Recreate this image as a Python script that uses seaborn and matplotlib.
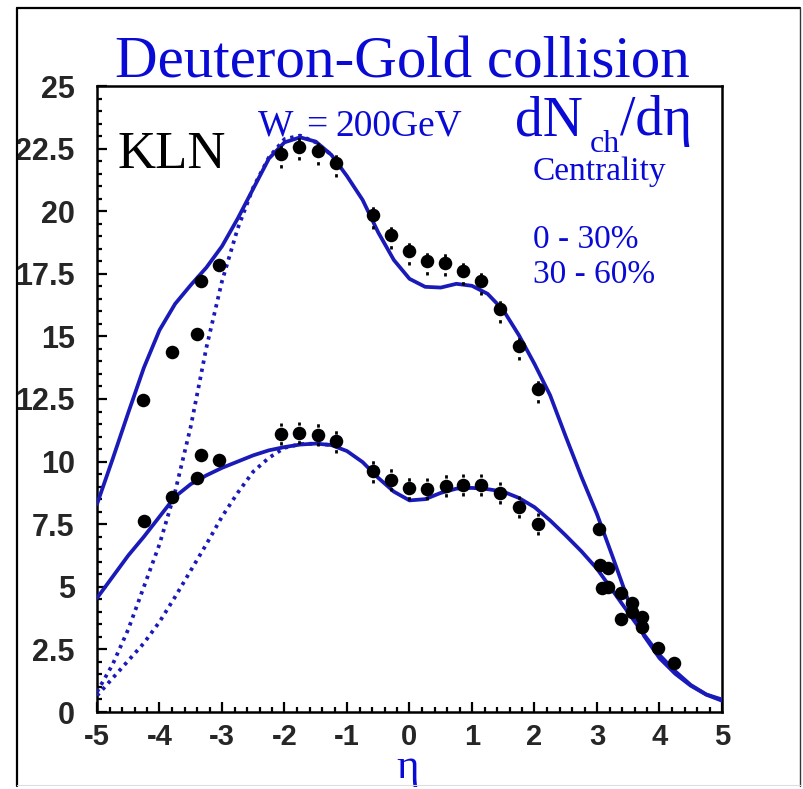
import numpy as np
import pandas as pd
import matplotlib
matplotlib.use("Agg")
import matplotlib.pyplot as plt
from matplotlib.lines import Line2D
from matplotlib.patches import Rectangle
import seaborn as sns

# ---- KLN model curves: pseudorapidity grid and dN/deta ----
eta_grid = [-5.0, -4.75, -4.5, -4.25, -4.0, -3.75, -3.5, -3.25, -3.0, -2.75,
            -2.5, -2.25, -2.0, -1.75, -1.5, -1.25, -1.0, -0.75, -0.5, -0.25,
            0.0, 0.25, 0.5, 0.75, 1.0, 1.25, 1.5, 1.75, 2.0, 2.25,
            2.5, 2.75, 3.0, 3.25, 3.5, 3.75, 4.0, 4.25, 4.5, 4.75, 5.0]
kln_central = [8.3, 10.1, 11.95, 13.75, 15.25, 16.3, 17.05, 17.75, 18.6, 19.7,
               20.9, 22.1, 22.75, 22.95, 22.78, 22.25, 21.4, 20.45, 19.15, 18.05,
               17.3, 16.98, 16.95, 17.1, 17.02, 16.7, 16.05, 15.05, 13.9, 12.65,
               11.0, 9.4, 7.9, 6.2, 4.45, 3.05, 2.15, 1.53, 1.05, 0.69, 0.45]
kln_periph = [4.55, 5.4, 6.25, 7.0, 7.8, 8.6, 9.1, 9.45, 9.75, 10.0,
              10.25, 10.45, 10.58, 10.68, 10.72, 10.66, 10.42, 9.98, 9.35, 8.8,
              8.45, 8.5, 8.75, 8.92, 8.95, 8.9, 8.8, 8.55, 8.18, 7.65,
              7.05, 6.42, 5.72, 4.85, 3.97, 3.1, 2.28, 1.63, 1.08, 0.7, 0.5]

# alternative (dotted) curves on the deuteron side
eta_alt = [-5.0, -4.75, -4.5, -4.25, -4.0, -3.75, -3.5, -3.25, -3.0, -2.75,
           -2.5, -2.25, -2.0, -1.75, -1.5, -1.25]
alt_central = [0.8, 1.9, 3.3, 5.0, 6.7, 8.8, 11.4, 14.55, 17.2, 19.3,
               20.95, 22.15, 22.88, 23.02, 22.75, 22.25]
alt_periph = [0.65, 1.35, 2.05, 2.75, 3.6, 4.6, 5.65, 6.7, 7.8, 8.75,
              9.6, 10.15, 10.55, 10.7, 10.72, 10.66]

# ---- measured points, 0-30% centrality ----
mid_eta_c = [-2.05, -1.77, -1.47, -1.18, -0.59, -0.30, 0.0, 0.28, 0.57, 0.86,
             1.15, 1.45, 1.75, 2.06]
mid_val_c = [22.28, 22.58, 22.41, 21.92, 19.84, 19.04, 18.41, 18.0, 17.95, 17.61,
             17.21, 16.08, 14.61, 12.9]
mid_err_c = 0.55
fwd_eta_c = [-4.26, -3.80, -3.40, -3.34, -3.05, 3.03, 3.17, 3.38, 3.56, 3.72, 3.97, 4.23]
fwd_val_c = [12.45, 14.39, 15.08, 17.23, 17.87, 7.32, 5.75, 4.75, 4.35, 3.81, 2.57, 1.95]

# ---- measured points, 30-60% centrality ----
mid_eta_p = [-2.05, -1.77, -1.47, -1.18, -0.59, -0.30, 0.0, 0.28, 0.58, 0.86,
             1.15, 1.45, 1.75, 2.06]
mid_val_p = [11.1, 11.14, 11.08, 10.81, 9.61, 9.28, 8.93, 8.91, 9.04, 9.07,
             9.07, 8.75, 8.19, 7.51]
mid_err_p = 0.45
fwd_eta_p = [-4.25, -3.80, -3.40, -3.33, -3.05, 3.05, 3.08, 3.17, 3.38, 3.56, 3.72]
fwd_val_p = [7.61, 8.57, 9.33, 10.25, 10.07, 5.88, 4.95, 4.99, 3.73, 3.99, 3.41]

x_ticks = [-5, -4, -3, -2, -1, 0, 1, 2, 3, 4, 5]
y_ticks = [0, 2.5, 5, 7.5, 10, 12.5, 15, 17.5, 20, 22.5, 25]
y_tick_labels = ["0", "2.5", "5", "7.5", "10", "12.5", "15", "17.5", "20", "22.5", "25"]

W, H = 804, 789
sns.set_style("ticks")
plt.rcParams["font.family"] = ["Liberation Sans", "DejaVu Sans"]

fig = plt.figure(figsize=(W / 100, H / 100), dpi=100)
fig.patch.set_facecolor("white")
ax = fig.add_axes([97 / W, 1 - 712 / H, 625 / W, 626 / H])
ax.set_facecolor("white")

LINE_BLUE = "#1a1ab8"
TEXT_BLUE = "#0a0ad6"

curves = pd.DataFrame({"eta": eta_grid, "central": kln_central, "periph": kln_periph})
alts = pd.DataFrame({"eta": eta_alt, "central": alt_central, "periph": alt_periph})

for col in ["central", "periph"]:
    sns.lineplot(data=curves, x="eta", y=col, ax=ax, color=LINE_BLUE, lw=2.7,
                 sort=False, estimator=None, zorder=3)
    ax.lines[-1].set_solid_joinstyle("round")
    sns.lineplot(data=alts, x="eta", y=col, ax=ax, color=LINE_BLUE, lw=2.7,
                 sort=False, estimator=None, zorder=3)
    dotted = ax.lines[-1]
    dotted.set_linestyle((0, (0.9, 1.3)))
    dotted.set_dash_capstyle("butt")

# error bars on mid-rapidity points
ax.vlines(mid_eta_c, np.array(mid_val_c) - mid_err_c, np.array(mid_val_c) + mid_err_c,
          colors="black", linewidth=2.0, linestyles=(0, (1.2, 2.2)), zorder=4)
ax.vlines(mid_eta_p, np.array(mid_val_p) - mid_err_p, np.array(mid_val_p) + mid_err_p,
          colors="black", linewidth=2.0, linestyles=(0, (1.2, 2.2)), zorder=4)

pts = pd.DataFrame({
    "eta": mid_eta_c + fwd_eta_c + mid_eta_p + fwd_eta_p,
    "val": mid_val_c + fwd_val_c + mid_val_p + fwd_val_p,
})
sns.scatterplot(data=pts, x="eta", y="val", ax=ax, color="black", s=95,
                edgecolor="black", linewidth=0, zorder=5)

ax.set_xlim(-5, 5)
ax.set_ylim(0, 25)
ax.set_xlabel("")
ax.set_ylabel("")
ax.set_xticks(x_ticks)
ax.set_xticklabels([str(t) for t in x_ticks])
ax.set_yticks(y_ticks)
ax.set_yticklabels(y_tick_labels)
ax.set_xticks(np.arange(-5, 5.01, 0.2), minor=True)
ax.set_yticks(np.arange(0, 25.01, 0.5), minor=True)
ax.tick_params(which="both", direction="in", color="black", width=1.6,
               top=False, right=False)
ax.tick_params(which="major", length=7.5)
ax.tick_params(which="minor", length=3.8)
ax.tick_params(axis="y", which="major", pad=16, labelsize=22)
ax.tick_params(axis="x", which="major", pad=8, labelsize=21)
for lab in ax.get_xticklabels() + ax.get_yticklabels():
    lab.set_fontweight("bold")
for sp in ax.spines.values():
    sp.set_visible(True)
    sp.set_linewidth(1.8)
    sp.set_color("black")


def px(x, y):
    return x / W, 1 - y / H


serif = ["Liberation Serif", "DejaVu Serif"]


def label(x, y, s, size, color=TEXT_BLUE, ha="left"):
    fig.text(*px(x, y), s, ha=ha, va="baseline", fontsize=size,
             color=color, family=serif)


label(402, 77, "Deuteron-Gold collision", 42.5, ha="center")
label(118, 168, "KLN", 38, color="black")
label(258, 135, "W", 27)
label(306, 135, "=", 27)
label(335, 135, "200GeV", 27)
label(515, 135, "dN", 40)
label(590, 152, "ch", 23)
label(620, 135, "/dη", 40)
label(533, 180, "Centrality", 24)
label(533, 248, "0 - 30%", 24)
label(533, 283, "30 - 60%", 24)
label(408, 778, "η", 31, ha="center")

# outer frame; labels are cut at its left edge
fig.patches.append(Rectangle((0, 0), 17 / W, 1, transform=fig.transFigure,
                             facecolor="white", edgecolor="none", zorder=10))
fig.lines.append(Line2D([17 / W, 17 / W], [1 - 786 / H, 1 - 8 / H],
                        transform=fig.transFigure, color="black", lw=1.6, zorder=11))
fig.lines.append(Line2D([17 / W, 800 / W], [1 - 8 / H, 1 - 8 / H],
                        transform=fig.transFigure, color="black", lw=1.6, zorder=11))
fig.lines.append(Line2D([800 / W, 800 / W], [1 - 786 / H, 1 - 8 / H],
                        transform=fig.transFigure, color="#333333", lw=1.0, zorder=11))
fig.lines.append(Line2D([17 / W, 800 / W], [1 - 785 / H, 1 - 785 / H],
                        transform=fig.transFigure, color="#dddddd", lw=0.8, zorder=11))

fig.savefig("out.png", dpi=100, facecolor="white")
